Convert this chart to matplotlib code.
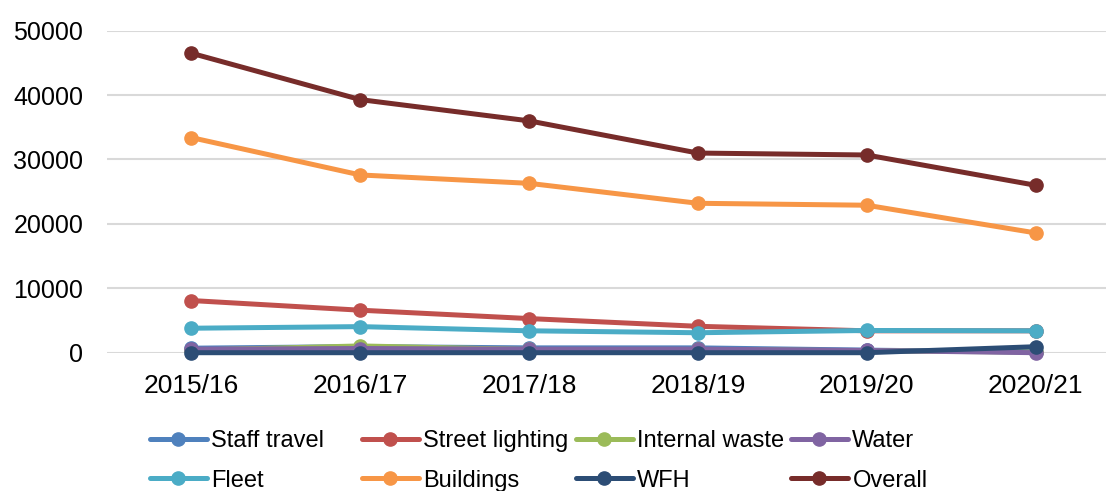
import matplotlib.pyplot as plt

plt.rcParams['font.family'] = ['Liberation Sans', 'DejaVu Sans']

years = ['2015/16', '2016/17', '2017/18', '2018/19', '2019/20', '2020/21']

staff_travel = [700, 950, 750, 750, 400, 100]
street_lighting = [8100, 6600, 5300, 4100, 3400, 3400]
internal_waste = [400, 1050, 500, 500, 300, 100]
water = [550, 650, 550, 550, 350, 0]
fleet = [3800, 4050, 3400, 3100, 3450, 3400]
buildings = [33400, 27600, 26300, 23200, 22900, 18600]
wfh = [0, 0, 0, 0, 0, 930]
overall = [46500, 39300, 36000, 31000, 30700, 26000]

series = [
    ('Staff travel', staff_travel, '#4F81BD'),
    ('Street lighting', street_lighting, '#C0504D'),
    ('Internal waste', internal_waste, '#9BBB59'),
    ('Water', water, '#8064A2'),
    ('Fleet', fleet, '#4BACC6'),
    ('Buildings', buildings, '#F79646'),
    ('WFH', wfh, '#2C4D75'),
    ('Overall', overall, '#772C2A'),
]

fig = plt.figure(figsize=(11.06, 4.91), dpi=100)
ax = fig.add_axes([107 / 1106, 138.3 / 491, 1013 / 1106, 322 / 491])

x = list(range(len(years)))
handles = []
for name, vals, color in series:
    h, = ax.plot(x, vals, color=color, lw=3.6, marker='o', ms=9.5,
                 label=name, clip_on=False, solid_capstyle='round')
    handles.append(h)

ax.set_xlim(-0.5, 5.5)
ax.set_ylim(0, 50000)
ax.set_yticks(range(0, 50001, 10000))
ax.set_xticks(x)
ax.set_xticklabels(years)
ax.tick_params(axis='both', length=0)
ax.tick_params(axis='x', pad=15, labelsize=19)
ax.tick_params(axis='y', pad=17, labelsize=18)
ax.grid(axis='y', color='#D9D9D9', lw=1.5)
ax.set_axisbelow(True)
for s in ax.spines.values():
    s.set_visible(False)

# legend: one column at a time so the columns sit at even spacing
col_x = [150, 362, 576, 791]
for j, cx in enumerate(col_x):
    leg = fig.legend(handles=[handles[j], handles[j + 4]],
                     loc='upper left', bbox_to_anchor=(cx / 1106, (491 - 430) / 491),
                     frameon=False, fontsize=17, handlelength=2.4,
                     handletextpad=0.2, borderpad=0, borderaxespad=0,
                     labelspacing=0.75)

fig.savefig('out.png', dpi=100)
